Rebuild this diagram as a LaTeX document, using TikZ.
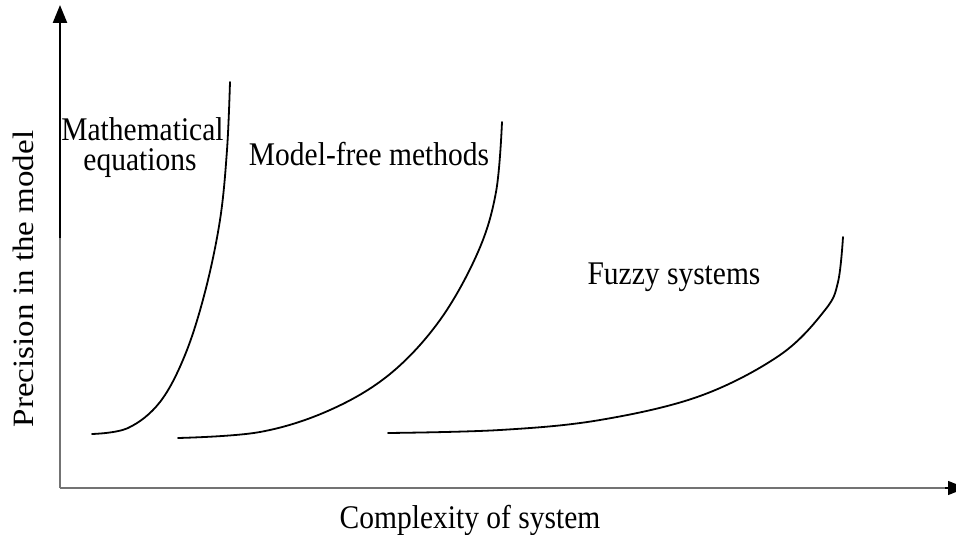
\documentclass[tikz,border=0pt]{standalone}
\usepackage{fontspec}
\setmainfont{Liberation Serif}
\usetikzlibrary{arrows.meta}
\begin{document}
\begin{tikzpicture}[x=1pt,y=-1pt,
  lbl/.style={inner sep=0pt, font=\fontsize{29.5}{31}\selectfont, yscale=1.12, transform shape},
  curve/.style={line width=1.8pt, line cap=round},
  tip/.style={-{Triangle[length=18pt,width=14pt]}}]
\useasboundingbox (0,0) rectangle (956,535);
% axes
\coordinate (O) at (60,488);
\coordinate (ymid) at (60,238);
\coordinate (ytop) at (60,5);
\coordinate (xend) at (966,488);
\draw[line width=1.3pt, black!55] (O) -- (ymid);
\draw[line width=2.4pt, tip] (ymid) -- (ytop);
\draw[line width=1.3pt, black!55] (O) -- (955,488);
\draw[line width=1.3pt, tip, black] (945,488) -- (xend);
% curves
\draw[curve] plot[smooth, tension=0.6] coordinates {(92,434) (128,428) (160,402) (185,355) (205,292) (220,220) (227,150) (230,82)};
\draw[curve] plot[smooth, tension=0.6] coordinates {(178,438) (260,432) (330,410) (390,374) (440,320) (478,252) (496,192) (502,122)};
\draw[curve] plot[smooth, tension=0.6] coordinates {(388,433) (500,430) (600,420) (700,396) (780,355) (825,310) (838,282) (843,237)};
% labels
\node[lbl, anchor=base] (math1) at (142.5,140) {Mathematical};
\node[lbl, anchor=base] (math2) at (140,170) {equations};
\node[lbl, anchor=base] (mfm) at (369,165) {Model-free methods};
\node[lbl, anchor=base] (fuzzy) at (674,284) {Fuzzy systems};
\node[lbl, anchor=base] (xl) at (470,528) {Complexity of system};
\node[lbl, anchor=base, rotate=90] (yl) at (33,279) {Precision in the model};
\end{tikzpicture}
\end{document}
